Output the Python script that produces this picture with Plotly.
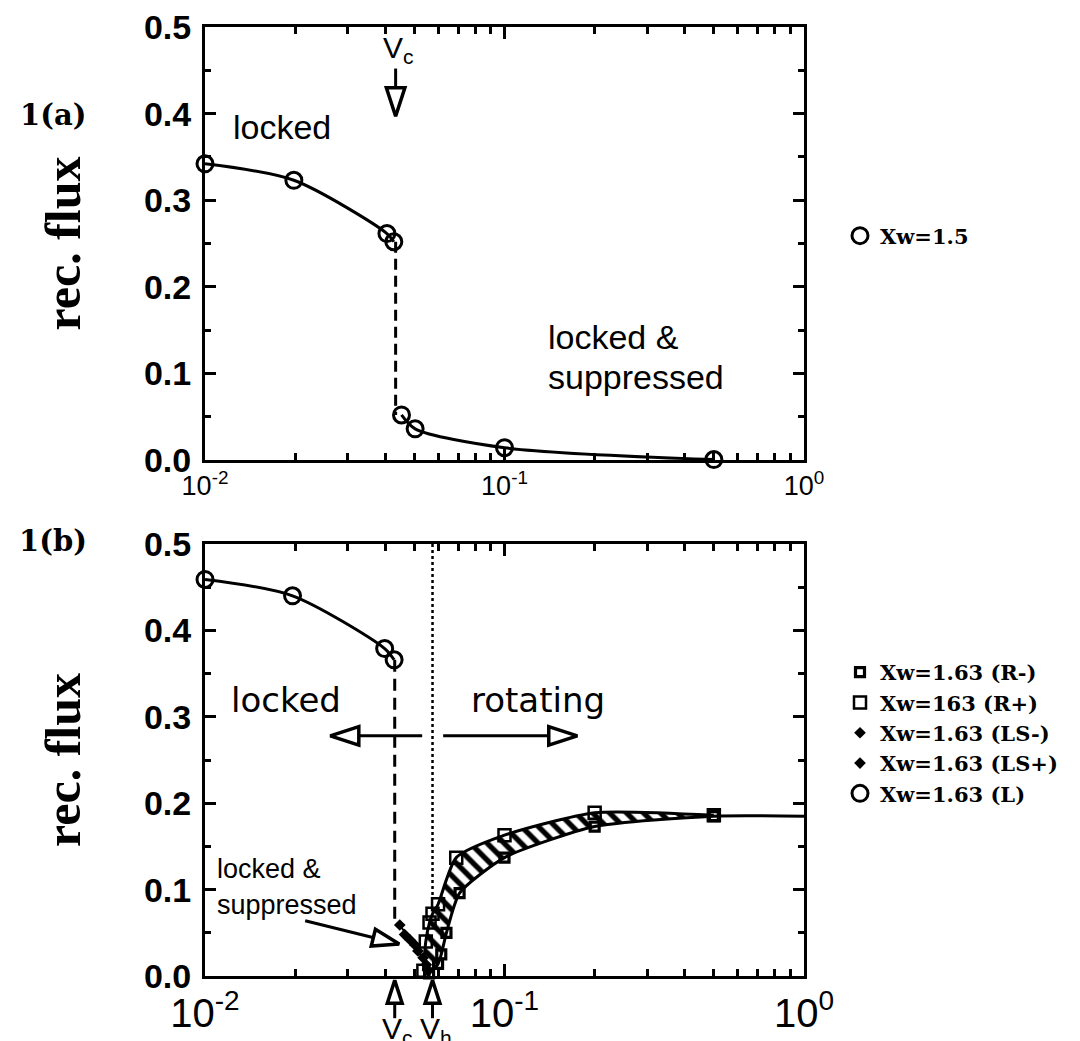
import math
import plotly.graph_objects as go

W, H = 1080, 1041

# ---------------- Panel 1(a): Xw = 1.5 ----------------
a_locked_x = [0.0100, 0.0198, 0.0405, 0.0427]
a_locked_y = [0.342, 0.323, 0.2615, 0.252]
a_supp_x = [0.0453, 0.0503, 0.100, 0.500]
a_supp_y = [0.052, 0.036, 0.0142, 0.0005]
a_vc = 0.0433

# ---------------- Panel 1(b): Xw = 1.63 ----------------
b_L_x = [0.0100, 0.0196, 0.0398, 0.0428]
b_L_y = [0.459, 0.440, 0.379, 0.366]
b_vc = 0.0430
b_vh = 0.0575
b_vc_low = 0.062          # bottom of dashed Vc line
b_vh_low = 0.090          # bottom of dotted Vh line

b_Rp_x = [0.0536, 0.0546, 0.0562, 0.0575, 0.0600, 0.0690, 0.100, 0.200, 0.500]
b_Rp_y = [0.006, 0.040, 0.062, 0.072, 0.083, 0.137, 0.163, 0.189, 0.186]
b_Rm_x = [0.0560, 0.0600, 0.0615, 0.0640, 0.0708, 0.100, 0.200, 0.500]
b_Rm_y = [0.003, 0.014, 0.025, 0.050, 0.096, 0.137, 0.173, 0.185]
b_R_end_x = 1.0           # rotating branch continues flat to the right edge

b_LSm_x = [0.0447, 0.0483, 0.0514, 0.0548]
b_LSm_y = [0.059, 0.042, 0.029, 0.013]
b_LSp_x = [0.0464, 0.0502, 0.0535, 0.0555]
b_LSp_y = [0.048, 0.036, 0.021, 0.006]

x_major = [0.01, 0.1, 1.0]
x_major_text = ["10<sup>-2</sup>", "10<sup>-1</sup>", "10<sup>0</sup>"]
x_minor = [0.02, 0.03, 0.04, 0.05, 0.06, 0.07, 0.08, 0.09,
           0.2, 0.3, 0.4, 0.5, 0.6, 0.7, 0.8, 0.9]
y_major = [0.0, 0.1, 0.2, 0.3, 0.4, 0.5]
y_major_text = ["0.0", "0.1", "0.2", "0.3", "0.4", "0.5"]
y_minor = [0.05, 0.15, 0.25, 0.35, 0.45]

# plot-area geometry in pixels
PX0, PX1 = 197, 796
A_TOP, A_BOT = 19, 452
B_TOP, B_BOT = 536, 968
Y3_TOP = 971

fig = go.Figure()
K = "black"


def curve(x, y, xa, ya, smooth=0.8, dash=None, width=3, spline=True):
    fig.add_trace(go.Scatter(
        x=x, y=y, mode="lines", showlegend=False, hoverinfo="skip",
        line=dict(color=K, width=width, shape="spline" if spline else "linear",
                  smoothing=smooth, dash=dash),
        xaxis=xa, yaxis=ya))


def points(x, y, xa, ya, name, symbol, size, lw, legend, show=True):
    fig.add_trace(go.Scatter(
        x=x, y=y, mode="markers", name=name, showlegend=show, legend=legend,
        marker=dict(symbol=symbol, size=size, color=K, line=dict(width=lw, color=K)),
        xaxis=xa, yaxis=ya, cliponaxis=False))


# ---- panel a ----
curve(a_locked_x, a_locked_y, "x", "y")
curve(a_supp_x, a_supp_y, "x", "y")
curve([a_vc, a_vc], [a_locked_y[-1], a_supp_y[0]], "x", "y", dash="11px,6px", spline=False)
points(a_locked_x + a_supp_x, a_locked_y + a_supp_y, "x", "y", "Xw=1.5",
       "circle-open", 16, 3, "legend")

# ---- panel b ----
band_x = b_Rp_x + [b_R_end_x] + b_Rm_x[::-1]
band_y = b_Rp_y + [b_Rm_y[-1]] + b_Rm_y[::-1]
fig.add_trace(go.Scatter(
    x=band_x, y=band_y, mode="lines", fill="toself", showlegend=False,
    line=dict(width=0, color="rgba(0,0,0,0)", shape="spline", smoothing=0.6),
    fillcolor="white",
    fillpattern=dict(shape="\\", fgcolor=K, bgcolor="white", fgopacity=1,
                     size=12, solidity=0.45, fillmode="replace"),
    xaxis="x2", yaxis="y2", hoverinfo="skip"))

curve([b_vc, b_vc], [b_L_y[-1], b_vc_low], "x2", "y2", dash="12px,7px", spline=False)
curve([b_vh, b_vh], [0.5, b_vh_low], "x2", "y2", dash="3px,3px", width=2.5, spline=False)
curve(b_Rm_x + [b_R_end_x], b_Rm_y + [b_Rm_y[-1]], "x2", "y2", smooth=0.6)
curve(b_Rp_x, b_Rp_y, "x2", "y2", smooth=0.6)
curve(b_LSm_x, b_LSm_y, "x2", "y2", width=2, spline=False)
curve(b_LSp_x, b_LSp_y, "x2", "y2", width=2, spline=False)
curve(b_L_x, b_L_y, "x2", "y2")

points(b_Rm_x, b_Rm_y, "x2", "y2", "Xw=1.63 (R-)", "square-open", 9, 3.2, "legend2")
points(b_Rp_x, b_Rp_y, "x2", "y2", "Xw=163 (R+)", "square-open", 12, 2.5, "legend2")
points(b_LSm_x, b_LSm_y, "x2", "y2", "Xw=1.63 (LS-)", "diamond", 9, 0, "legend2")
points(b_LSp_x, b_LSp_y, "x2", "y2", "Xw=1.63 (LS+)", "diamond", 9, 0, "legend2")
points(b_L_x, b_L_y, "x2", "y2", "Xw=1.63 (L)", "circle-open", 16, 3, "legend2")

# ---- arrows (tail -> head): shaft line + hollow arrow head ----
yspan = {"y": (A_BOT - A_TOP) / 0.5, "y2": (B_BOT - B_TOP) / 0.5, "y3": (H - Y3_TOP) / 1.0}
xspan = (PX1 - PX0) / 2.0
arrows = [
    ([a_vc, a_vc], [0.452, 0.397], "x", "y", 30),
    ([0.0531, 0.0262], [0.278, 0.278], "x2", "y2", 30),
    ([0.0624, 0.175], [0.278, 0.278], "x2", "y2", 30),
    ([0.0216, 0.0445], [0.064, 0.037], "x2", "y2", 28),
    ([b_vc, b_vc], [0.44, 0.98], "x2", "y3", 24),
    ([b_vh, b_vh], [0.44, 0.98], "x2", "y3", 24),
]
for xs, ys, xa, ya, sz in arrows:
    dx = (math.log10(xs[1]) - math.log10(xs[0])) * xspan
    dy = (ys[1] - ys[0]) * yspan[ya]
    ang = math.degrees(math.atan2(dx, dy))   # clockwise from "up"
    fig.add_trace(go.Scatter(
        x=xs, y=ys, mode="lines", showlegend=False, hoverinfo="skip",
        line=dict(color=K, width=3, backoff=[0, sz * 0.8]), xaxis=xa, yaxis=ya))
    fig.add_trace(go.Scatter(
        x=xs[1:], y=ys[1:], mode="markers", showlegend=False, cliponaxis=False,
        marker=dict(symbol="arrow", size=sz, angle=ang, color="white", opacity=1,
                    line=dict(width=3.5, color="#000000")),
        xaxis=xa, yaxis=ya, hoverinfo="skip"))

# ---------------- layout ----------------
xdom = [PX0 / W, PX1 / W]
ya_dom = [1 - A_BOT / H, 1 - A_TOP / H]
yb_dom = [1 - B_BOT / H, 1 - B_TOP / H]
y3_dom = [0, 1 - Y3_TOP / H]

common_x = dict(type="log", range=[-2, 0], domain=xdom, showline=True, linewidth=3,
                linecolor=K, mirror="ticks", ticks="inside", ticklen=12, tickwidth=2.5,
                tickcolor=K, tickvals=x_major, ticktext=x_major_text, showgrid=False,
                zeroline=False, automargin=False, ticklabeloverflow="allow",
                minor=dict(tickvals=x_minor, ticks="inside", ticklen=7, tickwidth=2.5,
                           tickcolor=K, showgrid=False))
common_y = dict(range=[0, 0.5], showline=True, linewidth=3, linecolor=K, mirror="ticks",
                ticks="inside", ticklen=11, tickwidth=2.5, tickcolor=K,
                tickvals=y_major, ticktext=y_major_text, showgrid=False, zeroline=False,
                automargin=False, ticklabeloverflow="allow",
                tickfont=dict(family="Liberation Sans", size=34, color=K, weight="bold"),
                ticklabelstandoff=4,
                minor=dict(tickvals=y_minor, ticks="inside", ticklen=6, tickwidth=2.5,
                           tickcolor=K, showgrid=False))

legfont = dict(family="DejaVu Serif", size=21, color=K, weight="bold")
fig.update_layout(
    width=W, height=H, margin=dict(l=0, r=0, t=0, b=0, autoexpand=False),
    paper_bgcolor="white", plot_bgcolor="white",
    xaxis=dict(common_x, anchor="y",
               tickfont=dict(family="Liberation Sans", size=27, color=K)),
    yaxis=dict(common_y, domain=ya_dom, anchor="x"),
    xaxis2=dict(common_x, anchor="y2",
                tickfont=dict(family="Liberation Sans", size=40, color=K)),
    yaxis2=dict(common_y, domain=yb_dom, anchor="x2"),
    yaxis3=dict(domain=y3_dom, range=[0, 1], visible=False, anchor="x2",
                fixedrange=True, automargin=False),
    legend=dict(x=832 / W, y=1 - 228 / H, xanchor="left", yanchor="middle",
                font=legfont, bgcolor="rgba(0,0,0,0)"),
    legend2=dict(x=832 / W, y=1 - 725 / H, xanchor="left", yanchor="middle",
                 font=legfont, bgcolor="rgba(0,0,0,0)", tracegroupgap=0),
    showlegend=True,
)

sans = "Liberation Sans"
wide = "DejaVu Sans"
ann = []


def T(text, x, y, xa, ya, size, fam=sans, xanchor="center", yanchor="middle", **kw):
    ann.append(dict(text=text, x=x, y=y, xref=xa, yref=ya, showarrow=False,
                    xanchor=xanchor, yanchor=yanchor,
                    font=dict(family=fam, size=size, color=K), **kw))


# panel a texts
T("locked", math.log10(0.0181), 0.385, "x", "y", 34)
T("locked &", math.log10(0.138), 0.142, "x", "y", 34, xanchor="left")
T("suppressed", math.log10(0.138), 0.096, "x", "y", 34, xanchor="left")
T("V<sub>c</sub>", math.log10(a_vc) + 0.01, 0.474, "x", "y", 30)

# panel b texts
T("locked", math.log10(0.0186), 0.319, "x2", "y2", 34, fam=wide)
T("rotating", math.log10(0.129), 0.319, "x2", "y2", 34, fam=wide)
T("locked &", math.log10(0.0108), 0.124, "x2", "y2", 27, xanchor="left")
T("suppressed", math.log10(0.0108), 0.082, "x2", "y2", 27, xanchor="left")
T("V<sub>c</sub>", math.log10(b_vc) + 0.01, 0.56, "x2", "y3", 30, yanchor="top")
T("V<sub>h</sub>", math.log10(b_vh) + 0.01, 0.56, "x2", "y3", 30, yanchor="top")

# axis titles and panel labels
serif = "Liberation Serif"
for yc in [(A_TOP + A_BOT) / 2, (B_TOP + B_BOT) / 2]:
    ann.append(dict(text="rec. flux", x=55 / W, y=1 - yc / H, xref="paper", yref="paper",
                    showarrow=False, textangle=-90, xanchor="center", yanchor="middle",
                    font=dict(family=serif, size=50, color=K, weight="bold")))
for lab, yc in [("1(a)", 107), ("1(b)", 533)]:
    ann.append(dict(text=lab, x=45 / W, y=1 - yc / H, xref="paper", yref="paper",
                    showarrow=False, xanchor="center", yanchor="middle",
                    font=dict(family="DejaVu Serif", size=29, color=K, weight="bold")))

fig.update_layout(annotations=ann)
fig.write_html("out.html")
